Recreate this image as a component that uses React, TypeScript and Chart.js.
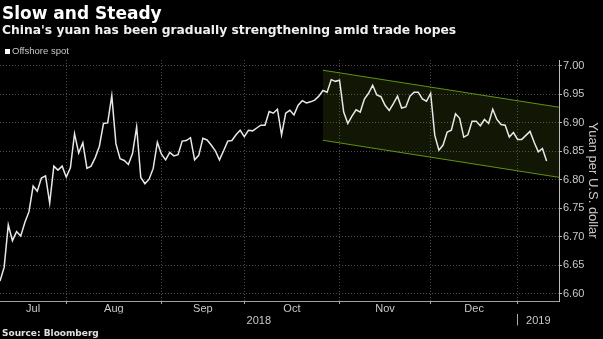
import React, { useEffect, useRef } from 'react';
import { Chart, registerables } from 'chart.js';

Chart.register(...registerables);

// Offshore yuan spot (CNH per USD), one value per trading day, from 10 Jul 2018 to 10 Jan 2019
const offshoreSpot = [
  6.622, 6.646, 6.721, 6.693, 6.709, 6.701, 6.725, 6.744, 6.789, 6.780,
  6.803, 6.807, 6.759, 6.824, 6.817, 6.824, 6.805, 6.821, 6.881, 6.847,
  6.865, 6.820, 6.824, 6.839, 6.859, 6.899, 6.900, 6.948, 6.863, 6.837,
  6.834, 6.827, 6.846, 6.893, 6.804, 6.793, 6.801, 6.820, 6.866, 6.845,
  6.835, 6.848, 6.842, 6.844, 6.868, 6.869, 6.874, 6.835, 6.843, 6.873,
  6.870, 6.861, 6.851, 6.835, 6.851, 6.868, 6.869, 6.879, 6.887, 6.876,
  6.887, 6.886, 6.891, 6.896, 6.896, 6.920, 6.917, 6.924, 6.879, 6.917,
  6.922, 6.914, 6.931, 6.939, 6.935, 6.937, 6.940, 6.947, 6.957, 6.954,
  6.976, 6.973, 6.975, 6.919, 6.899, 6.912, 6.923, 6.919, 6.942, 6.952,
  6.966, 6.949, 6.946, 6.931, 6.922, 6.934, 6.947, 6.926, 6.928, 6.947,
  6.954, 6.954, 6.942, 6.938, 6.952, 6.878, 6.852, 6.861, 6.884, 6.887,
  6.916, 6.908, 6.875, 6.879, 6.903, 6.903, 6.895, 6.906, 6.899, 6.924,
  6.906, 6.897, 6.896, 6.875, 6.883, 6.871, 6.871, 6.878, 6.885, 6.866,
  6.849, 6.855, 6.833,
];

// Month labels and the trading-day index where each month starts
const monthLabels = ['Jul', 'Aug', 'Sep', 'Oct', 'Nov', 'Dec'];
const monthStarts = [0, 16, 39, 59, 82, 104, 125];
const axisEnd = 135;
const yearLabels = ['2018', '2019'];
const yearStarts = [0, 125, 135];

const yTicks = [6.6, 6.65, 6.7, 6.75, 6.8, 6.85, 6.9, 6.95, 7.0];
const yMin = 6.587;
const yMax = 7.0105;

// Downward channel drawn over the recent period
const channelX = [78, 135];
const channelUpper = [6.9925, 6.9275];
const channelLower = [6.8694, 6.8043];

const AXIS_FONT = { family: '"Liberation Sans", Arial, sans-serif', size: 11 };
const TEXT_GRAY = '#c8c8c8';

export default function App() {
  const canvasRef = useRef<HTMLCanvasElement | null>(null);

  useEffect(() => {
    document.body.style.margin = '0';
    document.body.style.background = '#000';
    const canvas = canvasRef.current;
    if (!canvas) return;

    const monthCenters = monthLabels.map((_, k) => (monthStarts[k] + monthStarts[k + 1]) / 2);
    const yearCenters = yearLabels.map((_, k) => (yearStarts[k] + yearStarts[k + 1]) / 2);
    const yearTickValues = [yearCenters[0], yearStarts[1], yearCenters[1]];
    const yearTickLabels = [yearLabels[0], '', yearLabels[1]];

    const chart = new Chart(canvas, {
      type: 'line',
      data: {
        datasets: [
          {
            label: 'Offshore spot',
            data: offshoreSpot.map((v, i) => ({ x: i, y: v })),
            borderColor: '#e8e8e8',
            borderWidth: 1.5,
            pointRadius: 0,
            tension: 0,
            fill: false,
          },
          {
            label: 'upper',
            data: channelX.map((x, i) => ({ x, y: channelUpper[i] })),
            borderColor: '#62930f',
            borderWidth: 1,
            pointRadius: 0,
            fill: '+1',
            backgroundColor: 'rgba(120,160,30,0.14)',
          },
          {
            label: 'lower',
            data: channelX.map((x, i) => ({ x, y: channelLower[i] })),
            borderColor: '#62930f',
            borderWidth: 1,
            pointRadius: 0,
            fill: false,
          },
        ],
      },
      options: {
        animation: false,
        responsive: false,
        maintainAspectRatio: false,
        devicePixelRatio: 1,
        layout: { padding: { top: 60, left: 0, right: 0, bottom: 0 } },
        plugins: {
          legend: { display: false },
          tooltip: { enabled: false },
        },
        scales: {
          x: {
            type: 'linear',
            position: 'bottom',
            weight: 0,
            min: 0,
            max: axisEnd,
            afterBuildTicks: (scale: any) => {
              scale.ticks = monthStarts.slice(1).map((v) => ({ value: v }));
            },
            afterFit: (scale: any) => {
              scale.height = 0;
            },
            ticks: { display: false },
            grid: {
              color: '#4a4a4a',
              drawTicks: true,
              tickLength: 3,
              tickColor: '#aaaaaa',
              tickBorderDash: [],
            },
            border: { display: true, color: '#a0a0a0', width: 1, dash: [1, 2] },
          },
          xm: {
            type: 'linear',
            position: 'bottom',
            weight: 1,
            min: 0,
            max: axisEnd,
            afterBuildTicks: (scale: any) => {
              scale.ticks = monthCenters.map((v) => ({ value: v }));
            },
            afterFit: (scale: any) => {
              scale.height = 12.5;
            },
            ticks: {
              autoSkip: false,
              maxRotation: 0,
              padding: 1,
              color: TEXT_GRAY,
              font: AXIS_FONT,
              callback: (_v: any, i: number) => monthLabels[i],
            },
            grid: { display: false, drawTicks: false },
            border: { display: false },
          },
          xy: {
            type: 'linear',
            position: 'bottom',
            weight: 2,
            min: 0,
            max: axisEnd,
            afterBuildTicks: (scale: any) => {
              scale.ticks = yearTickValues.map((v) => ({ value: v }));
            },
            afterFit: (scale: any) => {
              scale.height = 25.5;
            },
            ticks: {
              autoSkip: false,
              maxRotation: 0,
              padding: -11,
              color: TEXT_GRAY,
              font: AXIS_FONT,
              callback: (_v: any, i: number) => yearTickLabels[i],
            },
            grid: {
              display: true,
              drawOnChartArea: false,
              drawTicks: true,
              tickLength: 12,
              tickBorderDash: [],
              tickColor: (ctx: any) =>
                ctx.tick && ctx.tick.value === yearStarts[1] ? '#aaaaaa' : 'rgba(0,0,0,0)',
            },
            border: { display: false },
          },
          y: {
            type: 'linear',
            position: 'right',
            min: yMin,
            max: yMax,
            afterBuildTicks: (scale: any) => {
              scale.ticks = yTicks.map((v) => ({ value: v }));
            },
            afterFit: (scale: any) => {
              scale.width = 44;
            },
            ticks: {
              padding: 1,
              color: TEXT_GRAY,
              font: AXIS_FONT,
              callback: (v: any) => Number(v).toFixed(2),
            },
            grid: {
              color: '#4a4a4a',
              drawTicks: true,
              tickLength: 3,
              tickColor: '#bbbbbb',
              tickBorderDash: [],
            },
            border: { display: true, color: '#bbbbbb', width: 1, dash: [1, 2] },
            title: {
              display: true,
              text: 'Yuan per U.S. dollar',
              color: TEXT_GRAY,
              font: { family: '"Liberation Sans", Arial, sans-serif', size: 13 },
              padding: { top: 3, bottom: 0 },
            },
          },
        },
      },
    } as any);

    return () => chart.destroy();
  }, []);

  return (
    <div
      style={{
        position: 'relative',
        width: 603,
        height: 339,
        background: '#000',
        overflow: 'hidden',
      }}
    >
      <canvas
        ref={canvasRef}
        width={603}
        height={339}
        style={{ position: 'absolute', left: 0, top: 0, width: 603, height: 339 }}
      />
      <div
        style={{
          position: 'absolute',
          left: 2,
          top: 3,
          font: 'bold 17px "DejaVu Sans", sans-serif',
          lineHeight: '20px',
          color: '#ffffff',
          whiteSpace: 'nowrap',
        }}
      >
        Slow and Steady
      </div>
      <div
        style={{
          position: 'absolute',
          left: 2,
          top: 23,
          font: 'bold 12.3px "DejaVu Sans", sans-serif',
          lineHeight: '14px',
          color: '#f0f0f0',
          whiteSpace: 'nowrap',
        }}
      >
        China's yuan has been gradually strengthening amid trade hopes
      </div>
      <div
        style={{
          position: 'absolute',
          left: 5,
          top: 45,
          height: 12,
          display: 'flex',
          alignItems: 'center',
          font: '9.5px "Liberation Sans", Arial, sans-serif',
          lineHeight: '12px',
          color: TEXT_GRAY,
          whiteSpace: 'nowrap',
        }}
      >
        <span
          style={{ display: 'inline-block', width: 5, height: 5, background: '#ffffff', marginRight: 2 }}
        />
        Offshore spot
      </div>
      <div
        style={{
          position: 'absolute',
          left: 2,
          top: 328,
          font: 'bold 9px "DejaVu Sans", sans-serif',
          lineHeight: '11px',
          color: '#e0e0e0',
          whiteSpace: 'nowrap',
        }}
      >
        Source: Bloomberg
      </div>
    </div>
  );
}
